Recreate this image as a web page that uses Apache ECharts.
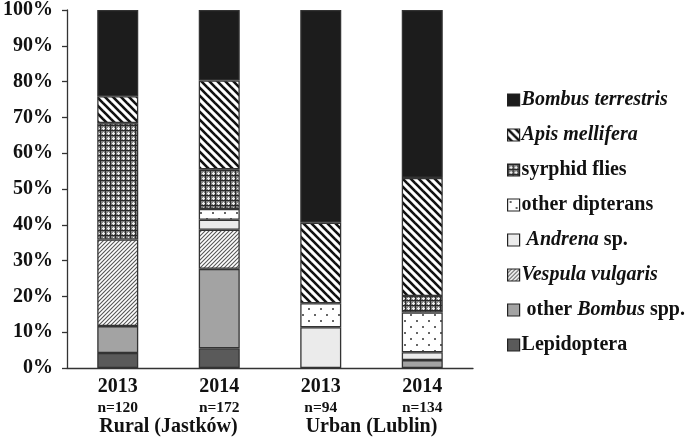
<!DOCTYPE html>
<html><head><meta charset="utf-8">
<script src="https://cdn.jsdelivr.net/npm/echarts@6/dist/echarts.min.js"></script>
<style>html,body{margin:0;padding:0;background:#fff}#c{width:685px;height:446px}</style>
</head><body><div id="c"></div>
<script>
// ---- data ----
const years = ['2013', '2014', '2013', '2014'];
const sampleSizes = ['n=120', 'n=172', 'n=94', 'n=134'];
const sites = ['Rural (Jastków)', 'Urban (Lublin)'];
const yTicks = [0, 10, 20, 30, 40, 50, 60, 70, 80, 90, 100];
// series from bottom to top, values in % per bar
const lepidoptera      = [4.2, 5.5, 0, 0];
const otherBombus      = [7.5, 22.2, 0, 2.2];
const vespulaVulgaris  = [24.2, 10.9, 0, 0];
const andrena          = [0, 2.8, 11.4, 2.2];
const otherDipterans   = [0, 3.0, 6.7, 11.1];
const syrphidFlies     = [32.5, 11.1, 0, 4.6];
const apisMellifera    = [7.5, 24.8, 22.5, 33.0];
const bombusTerrestris = [24.1, 19.7, 59.4, 46.9];

// ---- patterns ----
function pat(w, h, draw) {
  const c = document.createElement('canvas'); c.width = w; c.height = h;
  const g = c.getContext('2d'); draw(g, w, h);
  return { image: c, repeat: 'repeat' };
}
const apisPat = pat(8, 8, (g, w, h) => {
  g.fillStyle = '#fff'; g.fillRect(0, 0, w, h);
  g.strokeStyle = '#111'; g.lineWidth = 2.6;
  for (let k = -1; k <= 1; k++) { g.beginPath(); g.moveTo(k * w - 1, -1); g.lineTo(k * w + w + 1, h + 1); g.stroke(); }
});
const vespPat = pat(4, 4, (g, w, h) => {
  g.fillStyle = '#fff'; g.fillRect(0, 0, w, h);
  g.strokeStyle = '#555'; g.lineWidth = 1.1;
  for (let k = -1; k <= 1; k++) { g.beginPath(); g.moveTo(k * w - 1, h + 1); g.lineTo(k * w + w + 1, -1); g.stroke(); }
});
const syrPat = pat(5, 5, (g, w, h) => {
  g.fillStyle = '#808080'; g.fillRect(0, 0, w, h);
  g.fillStyle = '#2a2a2a'; g.fillRect(0, 0, 5, 1); g.fillRect(0, 0, 1, 5);
  g.fillStyle = '#eee'; g.fillRect(3, 2, 1, 3); g.fillRect(2, 3, 3, 1);
});
const dipPat = pat(12, 12, (g, w, h) => {
  g.fillStyle = '#fff'; g.fillRect(0, 0, w, h);
  g.fillStyle = '#666'; g.fillRect(2, 2, 2, 2); g.fillRect(8, 8, 2, 2);
});

const FONT = 'Liberation Serif';
const border = { borderColor: '#333', borderWidth: 1.3 };
const seriesDefs = [
  { name: 'Lepidoptera', data: lepidoptera, color: '#5a5a5a' },
  { name: 'other Bombus spp.', data: otherBombus, color: '#a3a3a3' },
  { name: 'Vespula vulgaris', data: vespulaVulgaris, color: vespPat },
  { name: 'Andrena sp.', data: andrena, color: '#ebebeb' },
  { name: 'other dipterans', data: otherDipterans, color: dipPat },
  { name: 'syrphid flies', data: syrphidFlies, color: syrPat },
  { name: 'Apis mellifera', data: apisMellifera, color: apisPat },
  { name: 'Bombus terrestris', data: bombusTerrestris, color: '#1c1c1c' }
];
const legendLabels = {
  'Bombus terrestris': '{i|Bombus terrestris}',
  'Apis mellifera': '{i|Apis mellifera}',
  'syrphid flies': 'syrphid flies',
  'other dipterans': 'other dipterans',
  'Andrena sp.': ' {i|Andrena} sp.',
  'Vespula vulgaris': '{i|Vespula vulgaris}',
  'other Bombus spp.': ' other {i|Bombus} spp.',
  'Lepidoptera': 'Lepidoptera'
};

const chart = echarts.init(document.getElementById('c'), null, { renderer: 'canvas' });
chart.setOption({
  animation: false,
  textStyle: { fontFamily: FONT },
  grid: { left: 67, right: 212, top: 8, bottom: 78 },
  legend: {
    orient: 'vertical', left: 507, top: 90, padding: 0, icon: 'rect',
    itemWidth: 12, itemHeight: 12, itemGap: 15,
    data: seriesDefs.map(s => s.name).reverse(),
    formatter: n => legendLabels[n],
    itemStyle: { borderColor: '#222', borderWidth: 1.2 },
    textStyle: { fontFamily: FONT, fontWeight: 'bold', fontSize: 20, color: '#111', padding: [0, 0, 0, -3],
      rich: { i: { fontFamily: FONT, fontWeight: 'bold', fontStyle: 'italic', fontSize: 20, color: '#111' } } }
  },
  xAxis: [{
    type: 'category', data: years.map((y, i) => y + '\n' + sampleSizes[i]),
    axisLine: { lineStyle: { color: '#333', width: 1.3 } }, axisTick: { show: false },
    axisLabel: { margin: 8, formatter: v => { const p = v.split('\n'); return '{y|' + p[0] + '}\n{n|' + p[1] + '}'; },
      rich: { y: { fontFamily: FONT, fontWeight: 'bold', fontSize: 20, color: '#111', lineHeight: 22 },
              n: { fontFamily: FONT, fontWeight: 'bold', fontSize: 15.5, color: '#111', lineHeight: 19 } } }
  }, {
    type: 'category', position: 'bottom', offset: 49, data: sites,
    axisLine: { show: false }, axisTick: { show: false },
    axisLabel: { margin: 0, fontFamily: FONT, fontWeight: 'bold', fontSize: 20, color: '#111' }
  }],
  yAxis: {
    type: 'value', min: 0, max: 100, interval: 10,
    axisLine: { show: true, lineStyle: { color: '#333', width: 1.3 } },
    axisTick: { show: true, length: 5, lineStyle: { color: '#333', width: 1.3 } },
    splitLine: { show: false },
    axisLabel: { margin: 14, formatter: '{value}%', fontFamily: FONT, fontWeight: 'bold', fontSize: 20, color: '#111' }
  },
  series: seriesDefs.map(s => ({
    name: s.name, type: 'bar', stack: 'all', barWidth: 41, xAxisIndex: 0,
    itemStyle: Object.assign({ color: s.color }, border),
    data: s.data.map(v => v === 0 ? '-' : v)
  }))
});
</script></body></html>
